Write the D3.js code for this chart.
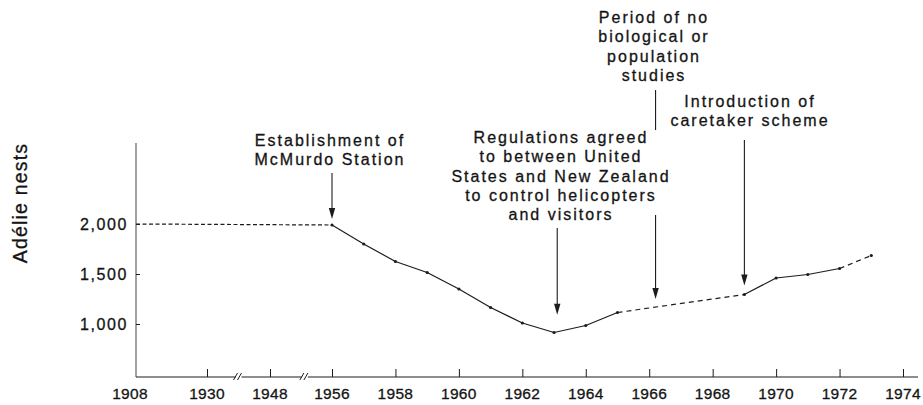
<!DOCTYPE html>
<html>
<head>
<meta charset="utf-8">
<script src="https://cdn.jsdelivr.net/npm/d3@7"></script>
<style>
  body { margin: 0; background: #fff; }
  svg text { font-family: "Liberation Sans", Arial, Helvetica, sans-serif; fill: #141414; stroke: #141414; stroke-width: 0.3px; }
</style>
</head>
<body>
<div id="chart"></div>
<script>
/* data */
var years = [1908, 1956, 1957, 1958, 1959, 1960, 1961, 1962, 1963, 1964, 1965, 1969, 1970, 1971, 1972, 1973];
var nests = [2000, 1990, 1800, 1625, 1515, 1350, 1165, 1010, 915, 985, 1115, 1295, 1460, 1495, 1555, 1685];
// segments that start at these years are drawn dashed (no counts in between)
var dashedFrom = [1908, 1965, 1972];

var tickYears = [1908, 1930, 1948, 1956, 1958, 1960, 1962, 1964, 1966, 1968, 1970, 1972, 1974];
var nestTicks = [1000, 1500, 2000];
var breakYears = [1939, 1952.5];

var annYears = [1956, 1963.1, 1966.2, 1969];
var annTexts = [
    ["Establishment of", "McMurdo Station"],
    ["Regulations agreed", "to between United", "States and New Zealand", "to control helicopters", "and visitors"],
    ["Period of no", "biological or", "population", "studies"],
    ["Introduction of", "caretaker scheme"]
];
var yLabel = "Adélie nests";

var width = 923,
    height = 405;

/* broken time axis: 1908..1956 squeezed, then one slot per year */
var x = d3.scaleLinear()
    .domain([1908, 1930, 1948, 1956, 1974])
    .range([136, 207, 270, 332, 903]);

var y = d3.scaleLinear()
    .domain([470, 2810])
    .range([377, 143]);

var svg = d3.select('#chart').append('svg')
    .attr('width', width)
    .attr('height', height);

var ink = '#1c1c1c';

/* axes */
svg.append('line')
    .attr('x1', x(1908)).attr('x2', x(1908))
    .attr('y1', y(2810)).attr('y2', y(470))
    .attr('stroke', '#555').attr('stroke-width', 1.1);

var xAxis = d3.axisBottom(x)
    .tickValues(tickYears.slice(1))
    .tickSize(-8)
    .tickSizeOuter(0)
    .tickFormat(d3.format('d'));

var gx = svg.append('g')
    .attr('transform', 'translate(0,' + y(470) + ')')
    .call(xAxis);
gx.select('.domain').remove();
gx.selectAll('.tick line').attr('stroke', ink);
gx.selectAll('.tick text').remove();

// axis baseline, interrupted at the two breaks
var segs = [x(1908)].concat(breakYears.map(x)).concat([918]);
for (var i = 0; i < segs.length - 1; i++) {
    svg.append('line')
        .attr('x1', i === 0 ? segs[i] : segs[i] + 3)
        .attr('x2', i === segs.length - 2 ? segs[i + 1] : segs[i + 1] - 3)
        .attr('y1', y(470)).attr('y2', y(470))
        .attr('stroke', ink).attr('stroke-width', 1.1);
}
svg.selectAll('path.brk')
    .data(breakYears)
    .enter().append('path')
    .attr('class', 'brk')
    .attr('d', function (d) {
        var bx = x(d), by = y(470);
        return 'M' + (bx - 5) + ',' + (by + 3) + 'L' + (bx - 1) + ',' + (by - 4) +
            'M' + (bx - 1) + ',' + (by + 3) + 'L' + (bx + 3) + ',' + (by - 4);
    })
    .attr('stroke', ink).attr('fill', 'none').attr('stroke-width', 1);

svg.selectAll('text.xt')
    .data(tickYears)
    .enter().append('text')
    .attr('class', 'xt')
    .attr('x', function (d, i) { return x(d) - (i === 0 ? 6 : 0); })
    .attr('y', 399)
    .attr('text-anchor', 'middle')
    .style('font-size', '15.5px')
    .style('letter-spacing', '0.3px')
    .text(function (d) { return d; });

var gy = svg.append('g')
    .attr('transform', 'translate(' + x(1908) + ',0)')
    .call(d3.axisRight(y).tickValues(nestTicks).tickSize(4).tickFormat(''));
gy.select('.domain').remove();
gy.selectAll('.tick line').attr('stroke', ink);

svg.selectAll('text.yt')
    .data(nestTicks)
    .enter().append('text')
    .attr('class', 'yt')
    .attr('x', 128)
    .attr('y', function (d) { return y(d) + 6; })
    .attr('text-anchor', 'end')
    .style('font-size', '16px')
    .style('letter-spacing', '1.6px')
    .text(function (d) { return d3.format(',')(d); });

svg.append('text')
    .attr('transform', 'translate(27,' + 203 + ') rotate(-90)')
    .attr('text-anchor', 'middle')
    .style('font-size', '19.5px')
    .style('letter-spacing', '1.2px')
    .text(yLabel);

/* series, segment by segment so gaps in the record can be dashed */
var pts = years.map(function (d, i) { return { year: d, value: nests[i] }; });
var line = d3.line()
    .x(function (d) { return x(d.year); })
    .y(function (d) { return y(d.value); });

var pairs = d3.pairs(pts);
svg.selectAll('path.seg')
    .data(pairs)
    .enter().append('path')
    .attr('class', 'seg')
    .attr('d', line)
    .attr('fill', 'none')
    .attr('stroke', ink)
    .attr('stroke-width', 1.2)
    .attr('stroke-dasharray', function (d) {
        if (dashedFrom.indexOf(d[0].year) < 0) return null;
        return d[0].year === 1908 ? '4,2.5' : '5,4';
    });

svg.selectAll('circle.pt')
    .data(pts.slice(1))
    .enter().append('circle')
    .attr('class', 'pt')
    .attr('cx', function (d) { return x(d.year); })
    .attr('cy', function (d) { return y(d.value); })
    .attr('r', 1.6)
    .attr('fill', ink);

/* annotations */
function valueAt(yr) {
    var i = d3.bisectLeft(years, yr);
    if (years[i] === yr) return nests[i];
    var t = (yr - years[i - 1]) / (years[i] - years[i - 1]);
    return nests[i - 1] + t * (nests[i] - nests[i - 1]);
}

// text block centre / first baseline, arrow start and gap above the line
var annLayout = [
    { tx: 330, ty: 146, a0: 173, gap: 6 },
    { tx: 561, ty: 143, a0: 228, gap: 17 },
    { tx: 654, ty: 23, a0: 215, gap: 8, top: [90, 130] },
    { tx: 750, ty: 107, a0: 140, gap: 9 }
];

annYears.forEach(function (yr, k) {
    var L = annLayout[k];
    var g = svg.append('g').attr('class', 'ann');
    var t = g.append('text')
        .attr('text-anchor', 'middle')
        .style('font-size', '16px')
        .style('letter-spacing', '2px');
    annTexts[k].forEach(function (s, j) {
        t.append('tspan')
            .attr('x', L.tx)
            .attr('y', L.ty + j * 19.3)
            .text(s);
    });
    var ax = x(yr),
        tip = y(valueAt(yr)) - L.gap;
    if (L.top) {
        g.append('line')
            .attr('x1', ax).attr('x2', ax)
            .attr('y1', L.top[0]).attr('y2', L.top[1])
            .attr('stroke', ink).attr('stroke-width', 1.1);
    }
    g.append('line')
        .attr('x1', ax).attr('x2', ax)
        .attr('y1', L.a0).attr('y2', tip - 8)
        .attr('stroke', ink).attr('stroke-width', 1.1);
    g.append('path')
        .attr('d', 'M' + (ax - 3.2) + ',' + (tip - 11) + 'L' + (ax + 3.2) + ',' + (tip - 11) + 'L' + ax + ',' + tip + 'Z')
        .attr('fill', ink);
});
</script>
</body>
</html>
